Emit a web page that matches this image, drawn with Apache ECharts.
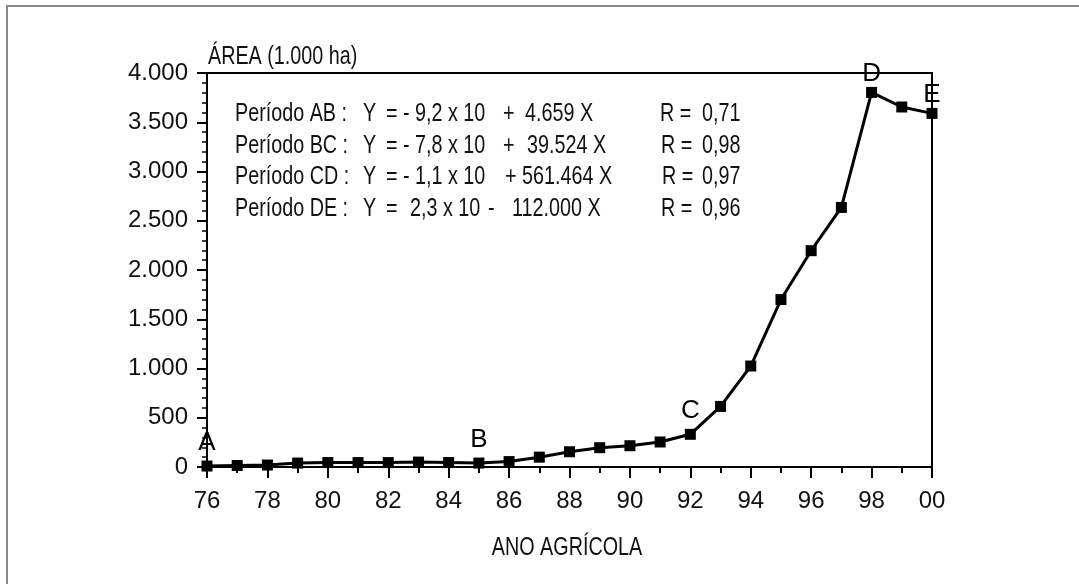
<!DOCTYPE html>
<html>
<head>
<meta charset="utf-8">
<script src="https://cdn.jsdelivr.net/npm/echarts@6/dist/echarts.min.js"></script>
<style>
html,body{margin:0;padding:0;background:#fff;}
#chart{width:1079px;height:584px;}
</style>
</head>
<body>
<div id="chart"></div>
<script>
// ---- data ----
const years = [1976,1977,1978,1979,1980,1981,1982,1983,1984,1985,1986,1987,1988,1989,1990,1991,1992,1993,1994,1995,1996,1997,1998,1999,2000];
const areaValues = [10,15,20,40,45,45,45,50,45,40,55,100,155,196,216,254,332,615,1025,1700,2196,2635,3803,3655,3590];
const pointLetters = {1976:'A', 1985:'B', 1992:'C', 1998:'D', 2000:'E'};
const xTickLabels = ['76','78','80','82','84','86','88','90','92','94','96','98','00'];
const yTickLabels = ['0','500','1.000','1.500','2.000','2.500','3.000','3.500','4.000'];
const xAxisTitle = 'ANO AGRÍCOLA';
const yAxisTitle = 'ÁREA (1.000 ha)';
const eqPeriods = ['Período AB :','Período BC :','Período CD :','Período DE :'];
const eqIntercepts = ['- 9,2 x 10','- 7,8 x 10','- 1,1 x 10','2,3 x 10'];
const eqSigns = ['+','+','+','-'];
const eqSlopes = ['4.659 X','39.524 X','561.464 X','112.000 X'];
const eqR = ['0,71','0,98','0,97','0,96'];

const FONT = '"Liberation Sans",Arial,Helvetica,sans-serif';
const SX = 0.79;

const chart = echarts.init(document.getElementById('chart'));

const seriesData = years.map((y,i)=>{
  const item = {value:[y, areaValues[i]]};
  if (pointLetters[y]) {
    item.label = {show:true, formatter: pointLetters[y], position:'top',
      distance: (y===1998||y===2000)?0:5,
      fontFamily: FONT, fontSize:26, color:'#000'};
  }
  return item;
});

function txt(x, y, s, size, align){
  return {type:'text', x:x, y:y, scaleX:SX, scaleY:1, originX:0, originY:0, silent:true, z:10,
    style:{text:s, x:0, y:0, fontFamily:FONT, fontSize:size||25, fill:'#111',
      textAlign:align||'left', textVerticalAlign:'middle'}};
}

const graphics = [
  {type:'polyline', shape:{points:[[7,584],[7,6],[1079,6]]}, style:{stroke:'#8a8a8a', lineWidth:2, fill:null}, silent:true},
  txt(208, 57, yAxisTitle, 25),
  txt(567, 548, xAxisTitle, 25, 'center')
];
const rowY = [114,146,177.5,209];
const interX = [403,403,403,410];
const signX = [503,503,505,488];
const slopeX = [525,527,522,512];
const rX = [660,661,662,661];
eqPeriods.forEach((p,i)=>{
  graphics.push(txt(235, rowY[i], p));
  graphics.push(txt(363, rowY[i], 'Y'));
  graphics.push(txt(386, rowY[i], '='));
  graphics.push(txt(interX[i], rowY[i], eqIntercepts[i]));
  graphics.push(txt(signX[i], rowY[i], eqSigns[i]));
  graphics.push(txt(slopeX[i], rowY[i], eqSlopes[i]));
  graphics.push(txt(rX[i], rowY[i], 'R ='));
  graphics.push(txt(702, rowY[i], eqR[i]));
});

chart.setOption({
  animation:false,
  backgroundColor:'#fff',
  grid:{left:207, right:147, top:73, bottom:117, show:true, borderColor:'#000', borderWidth:2, backgroundColor:'transparent'},
  xAxis:{
    type:'value', min:1976, max:2000, interval:2,
    axisLine:{show:true, onZero:false, lineStyle:{color:'#000', width:2}},
    axisTick:{show:true, inside:false, length:11, lineStyle:{color:'#000', width:2}},
    minorTick:{show:true, splitNumber:2, length:6, lineStyle:{color:'#000', width:2}},
    axisLabel:{margin:22, fontFamily:FONT, fontSize:24, color:'#111',
      formatter:v=>xTickLabels[Math.round((v-1976)/2)]},
    splitLine:{show:false}
  },
  yAxis:{
    type:'value', min:0, max:4000, interval:500,
    axisLine:{show:true, lineStyle:{color:'#000', width:2}},
    axisTick:{show:true, inside:false, length:10, lineStyle:{color:'#000', width:2}},
    minorTick:{show:true, splitNumber:5, length:5, lineStyle:{color:'#000', width:1.5}},
    axisLabel:{margin:19, fontFamily:FONT, fontSize:24, color:'#111',
      formatter:v=>yTickLabels[Math.round(v/500)]},
    splitLine:{show:false}
  },
  series:[{
    type:'line', data:seriesData, symbol:'rect', symbolSize:11,
    lineStyle:{color:'#000', width:3}, itemStyle:{color:'#000'},
    z:5
  }],
  graphic:graphics
});
</script>
</body>
</html>
